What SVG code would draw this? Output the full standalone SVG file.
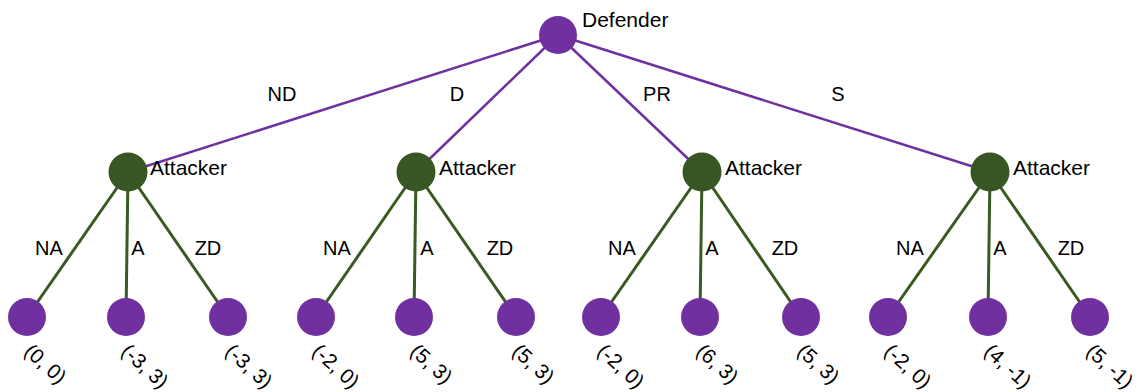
<svg xmlns="http://www.w3.org/2000/svg" width="1140" height="392" viewBox="0 0 1140 392">
<style>
text{font-family:"Liberation Sans",Arial,sans-serif;font-size:20px;fill:#000}
.nl{font-size:21px}
.lv{font-size:20.5px}
.el{text-anchor:middle}
.pl{stroke:#7030A0;stroke-width:2.5;fill:none}
.gl{stroke:#3A5A24;stroke-width:3;fill:none}
.pn{fill:#7030A0}
.gn{fill:#375623}
</style>
<rect width="1140" height="392" fill="#fff"/>
<g id="connectors">
<line class="pl" x1="558" y1="35" x2="128" y2="172"/>
<line class="pl" x1="558" y1="35" x2="416" y2="172"/>
<line class="pl" x1="558" y1="35" x2="702" y2="172"/>
<line class="pl" x1="558" y1="35" x2="990" y2="172"/>
<line class="gl" x1="128" y1="172" x2="27" y2="317"/>
<line class="gl" x1="128" y1="172" x2="126" y2="317"/>
<line class="gl" x1="128" y1="172" x2="228" y2="317"/>
<line class="gl" x1="416" y1="172" x2="316" y2="317"/>
<line class="gl" x1="416" y1="172" x2="414" y2="317"/>
<line class="gl" x1="416" y1="172" x2="516" y2="317"/>
<line class="gl" x1="702" y1="172" x2="601" y2="317"/>
<line class="gl" x1="702" y1="172" x2="700" y2="317"/>
<line class="gl" x1="702" y1="172" x2="801" y2="317"/>
<line class="gl" x1="990" y1="172" x2="888" y2="317"/>
<line class="gl" x1="990" y1="172" x2="988" y2="317"/>
<line class="gl" x1="990" y1="172" x2="1090" y2="317"/>
<text class="el" x="282" y="101">ND</text>
<text class="el" x="457" y="101">D</text>
<text class="el" x="657" y="101">PR</text>
<text class="el" x="838" y="101">S</text>
<text class="el" x="49" y="255">NA</text>
<text class="el" x="138" y="255">A</text>
<text class="el" x="208" y="255">ZD</text>
<text class="el" x="337" y="255">NA</text>
<text class="el" x="427" y="255">A</text>
<text class="el" x="500" y="255">ZD</text>
<text class="el" x="622" y="255">NA</text>
<text class="el" x="712" y="255">A</text>
<text class="el" x="785" y="255">ZD</text>
<text class="el" x="910" y="255">NA</text>
<text class="el" x="1000" y="255">A</text>
<text class="el" x="1071" y="255">ZD</text>
</g>
<g id="defender"><circle class="pn" cx="558" cy="35" r="19"/><text class="nl" x="582" y="27">Defender</text></g>
<g id="attacker1"><circle class="gn" cx="128" cy="172" r="19.5"/><text class="nl" x="150" y="175">Attacker</text></g>
<g id="attacker2"><circle class="gn" cx="416" cy="172" r="19.5"/><text class="nl" x="439" y="175">Attacker</text></g>
<g id="attacker3"><circle class="gn" cx="702" cy="172" r="19.5"/><text class="nl" x="725" y="175">Attacker</text></g>
<g id="attacker4"><circle class="gn" cx="990" cy="172" r="19.5"/><text class="nl" x="1013" y="175">Attacker</text></g>
<g id="leaf1"><circle class="pn" cx="27" cy="317" r="19"/><text class="lv" transform="translate(23 353) rotate(42)">(0, 0)</text></g>
<g id="leaf2"><circle class="pn" cx="126" cy="317" r="19"/><text class="lv" transform="translate(120 353) rotate(42)">(-3, 3)</text></g>
<g id="leaf3"><circle class="pn" cx="228" cy="317" r="19"/><text class="lv" transform="translate(224 353) rotate(42)">(-3, 3)</text></g>
<g id="leaf4"><circle class="pn" cx="316" cy="317" r="19"/><text class="lv" transform="translate(311 353) rotate(42)">(-2, 0)</text></g>
<g id="leaf5"><circle class="pn" cx="414" cy="317" r="19"/><text class="lv" transform="translate(409 353) rotate(42)">(5, 3)</text></g>
<g id="leaf6"><circle class="pn" cx="516" cy="317" r="19"/><text class="lv" transform="translate(511 353) rotate(42)">(5, 3)</text></g>
<g id="leaf7"><circle class="pn" cx="601" cy="317" r="19"/><text class="lv" transform="translate(596 353) rotate(42)">(-2, 0)</text></g>
<g id="leaf8"><circle class="pn" cx="700" cy="317" r="19"/><text class="lv" transform="translate(695 353) rotate(42)">(6, 3)</text></g>
<g id="leaf9"><circle class="pn" cx="801" cy="317" r="19"/><text class="lv" transform="translate(796 353) rotate(42)">(5, 3)</text></g>
<g id="leaf10"><circle class="pn" cx="888" cy="317" r="19"/><text class="lv" transform="translate(883 353) rotate(42)">(-2, 0)</text></g>
<g id="leaf11"><circle class="pn" cx="988" cy="317" r="19"/><text class="lv" transform="translate(983 353) rotate(42)">(4, -1)</text></g>
<g id="leaf12"><circle class="pn" cx="1090" cy="317" r="19"/><text class="lv" transform="translate(1085 353) rotate(42)">(5, -1)</text></g>
</svg>
